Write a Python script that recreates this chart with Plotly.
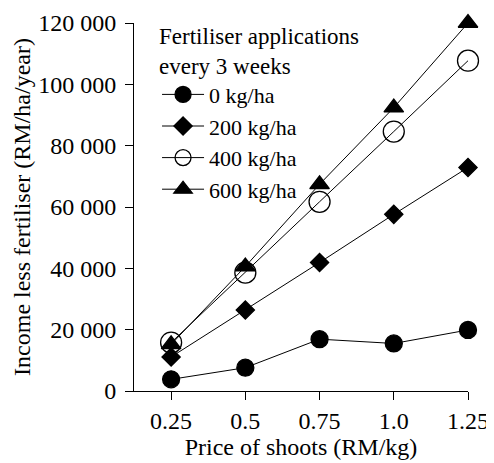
import plotly.graph_objects as go

price = [0.25, 0.5, 0.75, 1.0, 1.25]
price_labels = ["0.25", "0.5", "0.75", "1.0", "1.25"]
kg0 = [3800, 7600, 16900, 15500, 19900]
kg200 = [11100, 26400, 41900, 57600, 72900]
kg400 = [15800, 38600, 61700, 84600, 107700]
kg600 = [15200, 40600, 67400, 92400, 120000]
y_ticks = [0, 20000, 40000, 60000, 80000, 100000, 120000]
y_labels = ["0", "20 000", "40 000", "60 000", "80 000", "100 000", "120 000"]

FONT = "Liberation Serif, Times New Roman, serif"
series = [
    ("0 kg/ha", kg0, "circle", 17),
    ("200 kg/ha", kg200, "diamond", 14),
    ("400 kg/ha", kg400, "circle-open", 21),
    ("600 kg/ha", kg600, "triangle-up", 17),
]

fig = go.Figure()
for name, vals, sym, sz in series:
    fig.add_trace(go.Scatter(
        x=price, y=vals, name=name, mode="lines+markers",
        line=dict(color="black", width=1),
        marker=dict(symbol=sym, size=sz, color="black",
                    line=dict(color="black", width=1.3)),
        cliponaxis=False,
    ))

FS = 24
LFS = 22
tf = dict(family=FONT, size=FS, color="black")
fig.update_layout(
    width=486, height=455,
    margin=dict(l=126, r=26, t=15, b=72, autoexpand=False),
    paper_bgcolor="white", plot_bgcolor="white",
    font=dict(family=FONT, size=FS, color="black"),
    showlegend=True,
    legend=dict(
        title=dict(text="Fertiliser applications<br>every 3 weeks",
                   font=dict(family=FONT, size=23, color="black")),
        x=0.069, y=1.025, xanchor="left", yanchor="top",
        bgcolor="rgba(0,0,0,0)", tracegroupgap=0, itemsizing="trace",
        itemwidth=42,
        font=dict(family=FONT, size=LFS, color="black"),
    ),
    xaxis=dict(
        range=[0.125, 1.25], tickvals=price, ticktext=price_labels,
        tickfont=tf, automargin=False,
        showline=True, linecolor="black", linewidth=1,
        ticks="outside", ticklen=8, tickcolor="black",
        showgrid=False, zeroline=False,
        title=dict(text="Price of shoots (RM/kg)", standoff=4,
                   font=dict(family=FONT, size=FS, color="black")),
    ),
    yaxis=dict(
        range=[0, 120000], tickvals=y_ticks, ticktext=y_labels,
        tickfont=tf, ticklabelstandoff=4, automargin=False,
        showline=True, linecolor="black", linewidth=1,
        ticks="outside", ticklen=8, tickcolor="black",
        showgrid=False, zeroline=False,
        title=dict(text="Income less fertiliser (RM/ha/year)", standoff=0,
                   font=dict(family=FONT, size=FS, color="black")),
    ),
)

fig.write_html("out.html")
